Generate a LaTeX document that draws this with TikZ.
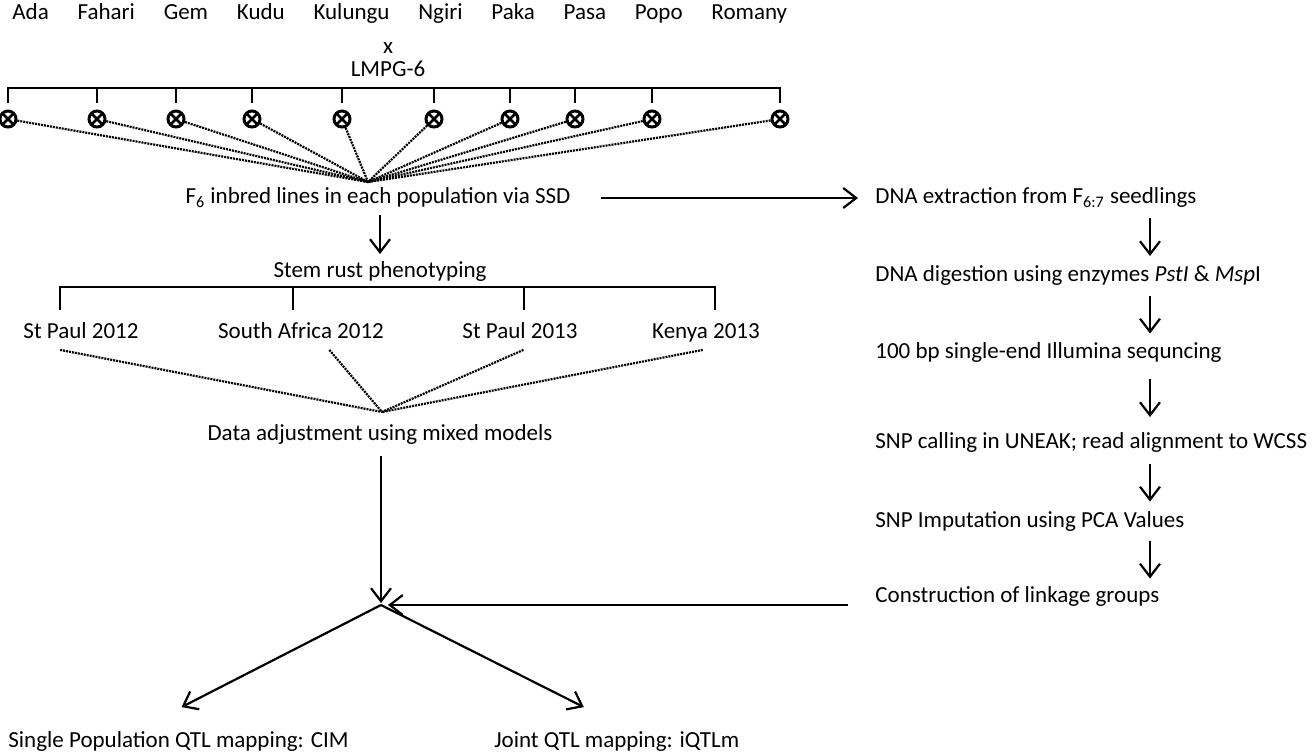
\documentclass[tikz,border=0pt]{standalone}
\usepackage{fontspec}
\setmainfont{Carlito}
\usetikzlibrary{arrows.meta, calc, positioning}

\begin{document}
\begin{tikzpicture}[x=0.5pt, y=-0.5pt,
  lbl/.style={font=\fontsize{11.5}{13}\selectfont, inner sep=0pt, text height=8pt, text depth=2.5pt},
  flow/.style={-{Straight Barb[length=6.5pt, width=10pt]}, line width=1.1pt},
  link/.style={line width=1.1pt, dash pattern=on 1pt off 0.5pt},
  brace/.style={line width=1.4pt},
  selfing/.style={circle, draw, line width=1.5pt, minimum size=8pt, inner sep=0pt,
    path picture={\draw[line width=1.3pt] (path picture bounding box.north west) -- (path picture bounding box.south east)
      (path picture bounding box.north east) -- (path picture bounding box.south west);}}]

\useasboundingbox (0,0) rectangle (1314,751);

% parents x LMPG-6
\node[lbl, anchor=west] (ada) at (12,14) {Ada};
\node[lbl, right=14pt of ada] (fahari) {Fahari};
\node[lbl, right=14pt of fahari] (gem) {Gem};
\node[lbl, right=14pt of gem] (kudu) {Kudu};
\node[lbl, right=14pt of kudu] (kulungu) {Kulungu};
\node[lbl, right=14pt of kulungu] (ngiri) {Ngiri};
\node[lbl, right=14pt of ngiri] (paka) {Paka};
\node[lbl, right=14pt of paka] (pasa) {Pasa};
\node[lbl, right=14pt of pasa] (popo) {Popo};
\node[lbl, right=14pt of popo] (romany) {Romany};

\node[lbl] (cross) at (388,48) {x};
\node[lbl] (tester) at (388,71) {LMPG-6};

% selfed populations
\coordinate (brk) at (0,88);
\foreach \i/\x in {1/8, 2/97, 3/176, 4/252, 5/342, 6/434, 7/510, 8/575, 9/652, 10/780}
  \node[selfing] (s\i) at (\x,119) {};

\draw[brace] ($(s1.north)+(0,-7)$) |- (brk -| s10) -- ($(s10.north)+(0,-7)$);
\foreach \i in {2,...,9}
  \draw[brace] ($(s\i.north)+(0,-7)$) -- (s\i |- brk);

\coordinate (selfhub) at (368,182);
\foreach \i in {1,...,10}
  \draw[link] (s\i) -- (selfhub);

\node[lbl] (ssd) at (378,198) {F\textsubscript{6} inbred lines in each population via SSD};

% genotyping branch
\node[lbl, anchor=west] (extract) at (875,198) {DNA extraction from F\textsubscript{6:7} seedlings};
\node[lbl, anchor=west] (digest) at (875,276) {DNA digestion using enzymes \textit{PstI} \& \textit{Msp}I};
\node[lbl, anchor=west] (seq) at (875,353) {100 bp single-end Illumina sequncing};
\node[lbl, anchor=west] (snpcall) at (875,443) {SNP calling in UNEAK; read alignment to WCSS};
\node[lbl, anchor=west] (impute) at (875,522) {SNP Imputation using PCA Values};
\node[lbl, anchor=west] (linkage) at (875,597) {Construction of linkage groups};

\draw[flow] ($(ssd.east)+(30,0)$) -- ($(extract.west)+(-17,0)$);

\coordinate (rcol) at (1150,0);
\foreach \a/\b in {extract/digest, digest/seq, seq/snpcall, snpcall/impute, impute/linkage}
  \draw[flow] ($(\a.south -| rcol)!0.5!(\b.north -| rcol)+(0,-19)$) -- ++(0,38);

% phenotyping branch
\node[lbl] (stem) at (380,272) {Stem rust phenotyping};
\draw[flow] ($(ssd.south -| stem)!0.5!(stem.north)+(0,-20)$) -- ++(0,39);

\coordinate (brk2) at (0,287);
\foreach \n/\x in {1/60, 2/293, 3/524, 4/715}
  \coordinate (t\n) at (\x,310);
\draw[brace] (t1) |- (brk2 -| t4) -- (t4);
\draw[brace] (t2) -- (t2 |- brk2);
\draw[brace] (t3) -- (t3 |- brk2);

\node[lbl] (sp12) at (81,333) {St Paul 2012};
\node[lbl] (sa12) at (301,333) {South Africa 2012};
\node[lbl] (sp13) at (520,333) {St Paul 2013};
\node[lbl] (ke13) at (706,333) {Kenya 2013};

\coordinate (phenohub) at (382,412);
\foreach \n/\f in {sp12/0.32, sa12/0.67, sp13/0.53, ke13/0.47}
  \draw[link] ($(\n.south west)!\f!(\n.south east)+(0,6)$) -- (phenohub);

\node[lbl] (adjust) at (380,435) {Data adjustment using mixed models};

% QTL mapping
\coordinate (qtlhub) at (381,605);
\draw[flow, shorten >=1pt] ($(qtlhub |- adjust.south)+(0,10)$) -- (qtlhub);
\coordinate (lkstart) at ($(linkage.west)+(-27,0)$);
\draw[flow, shorten >=3.5pt] (lkstart |- qtlhub) -- (qtlhub);

\node[lbl, anchor=west] (single) at (8,742) {Single Population QTL mapping: CIM};
\node[lbl, anchor=west] (joint) at (494,742) {Joint QTL mapping: iQTLm};

\draw[flow] (qtlhub) -- ($(single.north)+(3,-24)$);
\draw[flow] (qtlhub) -- ($(joint.north)+(-33,-24)$);
\end{tikzpicture}
\end{document}
